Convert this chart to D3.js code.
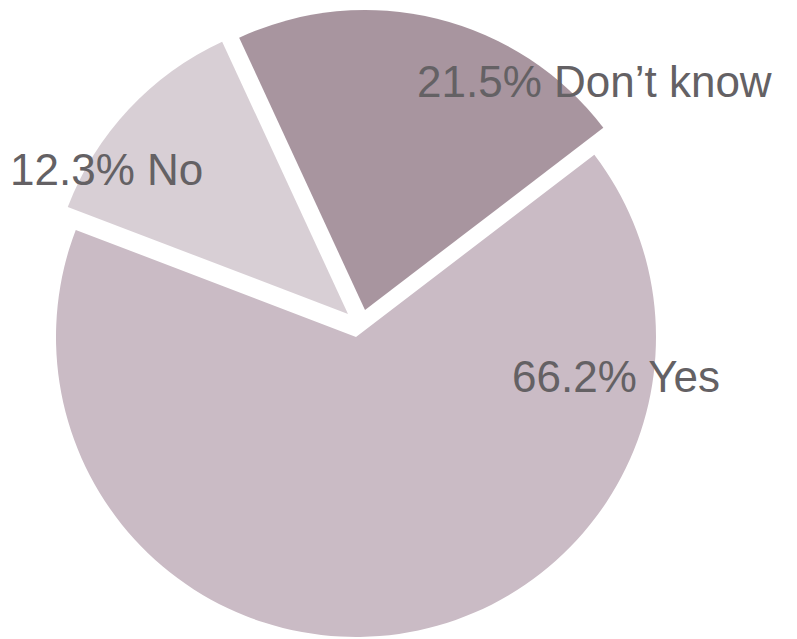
<!DOCTYPE html>
<html>
<head>
<meta charset="utf-8">
<script src="https://cdn.jsdelivr.net/npm/d3@7"></script>
<style>
  html, body { margin: 0; padding: 0; background: #ffffff; }
  svg { display: block; }
</style>
</head>
<body>
<svg id="chart" width="797" height="639"></svg>
<script>
// ---- data ----
const categories = ["Don\u2019t know", "Yes", "No"];
const values = [21.5, 66.2, 12.3];
const labels = ["21.5% Don\u2019t know", "66.2% Yes", "12.3% No"];

// ---- style ----
const colors = ["#a8959f", "#cabbc5", "#d8cfd5"];
const explode = [[9, -27], [0, 0], [-8, -23]];          // slice offsets (px)
const labelPos = [[61, -240], [156, 55], [-346, -152]]; // label start, relative to centre
const cx = 356, cy = 337, radius = 300;
const startDeg = -24.8;

const svg = d3.select("#chart");
const g = svg.append("g").attr("transform", `translate(${cx},${cy})`);

const pie = d3.pie()
  .sort(null)
  .value(d => d)
  .startAngle(startDeg * Math.PI / 180)
  .endAngle(startDeg * Math.PI / 180 + 2 * Math.PI);

const arc = d3.arc().innerRadius(0).outerRadius(radius);
const arcs = pie(values);

g.selectAll("path.slice")
  .data(arcs)
  .join("path")
  .attr("class", "slice")
  .attr("d", arc)
  .attr("fill", (d, i) => colors[i])
  .attr("transform", (d, i) => `translate(${explode[i][0]},${explode[i][1]})`);

g.selectAll("text.lbl")
  .data(arcs)
  .join("text")
  .attr("class", "lbl")
  .attr("x", (d, i) => labelPos[i][0])
  .attr("y", (d, i) => labelPos[i][1])
  .attr("text-anchor", "start")
  .attr("font-family", "'Liberation Sans', Arial, sans-serif")
  .attr("font-size", 44)
  .attr("textLength", null)
  .attr("fill", "#646164")
  .text((d, i) => labels[i]);
</script>
</body>
</html>
